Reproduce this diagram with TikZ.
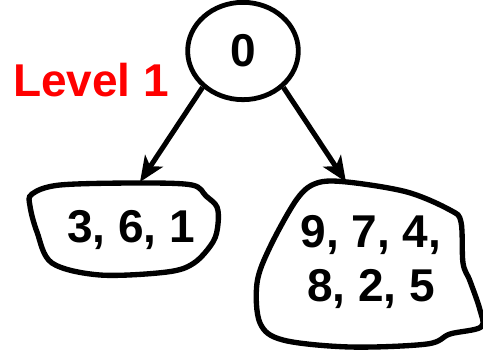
\documentclass[tikz,border=0pt]{standalone}
\usepackage{fontspec}
\setmainfont{Liberation Sans}
\usepackage{xcolor}
\usepackage{tikz}
\usetikzlibrary{arrows.meta,shapes.geometric}

\begin{document}
\begin{tikzpicture}[x=0.75pt,y=-0.75pt,line width=3.8pt,
  txt/.style={font=\fontsize{34.5}{40.5}\selectfont\bfseries,align=center,inner sep=0pt},
  blob/.style={line width=4pt,smooth cycle,tension=0.55},
  arr/.style={-{Stealth[length=19pt,width=16pt,inset=5pt]}}]
\useasboundingbox(0,0)rectangle(483,351);
\node[txt,draw,ellipse,minimum width=83pt,minimum height=73pt,line width=3.6pt](root)at(243,51){0};
\node[txt,red](lev)at(91,80){Level 1};
\coordinate(ltop)at(140,182);
\coordinate(rtop)at(346,182);
\draw[arr](root.222)--(ltop);
\draw[arr](root.318)--(rtop);
\draw[blob]plot coordinates{(32,194)(60,185)(140,183)(192,185)(206,196)(217,207)(218,224)(213,242)(194,263)(167,272)(100,275)(52,263)(37,232)(30,206)};
\draw[blob]plot coordinates{(297,199)(317,183)(347,182)(407,192)(450,210)(461,222)(463,263)(470,281)(480,310)(481,327)(450,334)(427,344)(350,347)(283,340)(260,323)(257,283)(270,247)};
\node[txt](left)at(131,230){3, 6, 1};
\node[txt](right)at(371,262){9, 7, 4,\\8, 2, 5};
\end{tikzpicture}
\end{document}
